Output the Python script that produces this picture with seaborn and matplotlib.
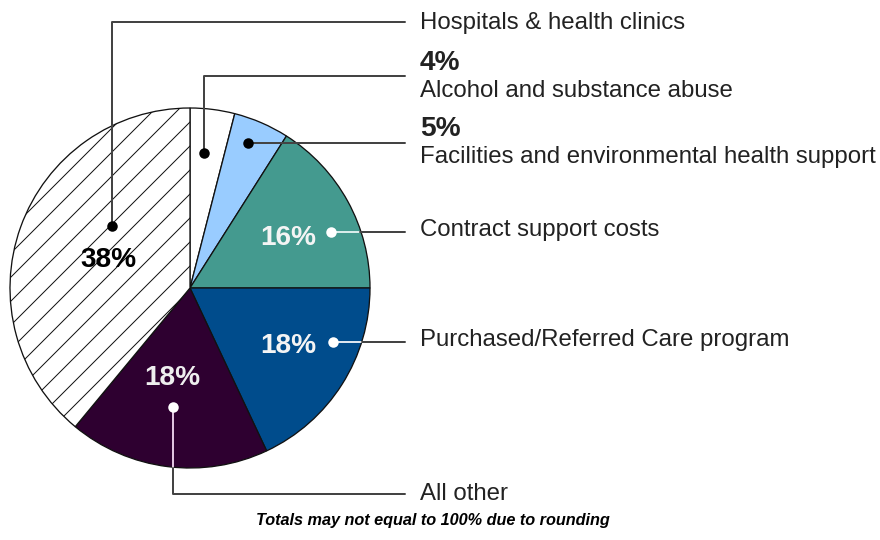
import matplotlib
matplotlib.use("Agg")
import matplotlib.pyplot as plt
import seaborn as sns

sns.set_theme(style="white")
plt.rcParams['font.family'] = ['Liberation Sans', 'DejaVu Sans']
plt.rcParams['hatch.linewidth'] = 1.0
plt.rcParams['hatch.color'] = '#222222'

categories = ["Alcohol and substance abuse", "Facilities and environmental health support",
              "Contract support costs", "Purchased/Referred Care program", "All other",
              "Hospitals & health clinics"]
values = [4, 5, 16, 18, 18, 38]
colors = ["#FFFFFF", "#99CCFF", "#449A8F", "#004C8C", "#2E0030", "#FFFFFF"]
footnote = "Totals may not equal to 100% due to rounding"

# dpi 72 so that 1 pt == 1 px
W, H = 880, 540
DPI = 72
fig = plt.figure(figsize=(W / DPI, H / DPI), dpi=DPI)
ax = fig.add_axes([0, 0, 1, 1])

def Y(yp):
    return H - yp

cx, cy, r = 190, 288, 180
fracs = [v / 100 for v in values]
wedges, _ = ax.pie(fracs, colors=colors, startangle=90, counterclock=False,
                   center=(cx, Y(cy)), radius=r, frame=True, normalize=False,
                   wedgeprops=dict(edgecolor="#111111", linewidth=1.3))
# last slice (hatched) closes the circle (totals do not sum to 100 due to rounding)
wedges[-1].set_theta1(-270)
wedges[-1].set_hatch('/')
ax.set_xlim(0, W)
ax.set_ylim(0, H)
ax.set_aspect('equal')
ax.axis('off')

lc = "#444444"
lab_x = 420
line_end = 405
fs = 24
lab_c = '#222222'
lw = 2.0

def dot(x, y, c):
    ax.plot([x], [Y(y)], 'o', color=c, markersize=10.5, markeredgewidth=0, zorder=5)

# Hospitals
dot(112, 226, 'black')
ax.plot([112, 112, line_end], [Y(226), Y(22), Y(22)], color=lc, lw=lw, zorder=4)
ax.text(lab_x, Y(23), categories[5], fontsize=fs, va='center', ha='left', color=lab_c)

# Alcohol
dot(204, 153, 'black')
ax.plot([204, 204, line_end], [Y(153), Y(76), Y(76)], color=lc, lw=lw, zorder=4)
ax.text(lab_x, Y(63), f"{values[0]}%", fontsize=28, fontweight='bold', va='center', ha='left', color=lab_c)
ax.text(lab_x, Y(91), categories[0], fontsize=fs, va='center', ha='left', color=lab_c)

# Facilities
dot(248, 143, 'black')
ax.plot([248, line_end], [Y(143), Y(143)], color=lc, lw=lw, zorder=4)
ax.text(lab_x, Y(129), f"{values[1]}%", fontsize=28, fontweight='bold', va='center', ha='left', color=lab_c)
ax.text(lab_x, Y(157), categories[1], fontsize=fs, va='center', ha='left', color=lab_c)

# Contract support
dot(331, 232, 'white')
ax.plot([331, 360], [Y(232), Y(232)], color='#d8ecea', lw=lw, zorder=4)
ax.plot([360, line_end], [Y(232), Y(232)], color=lc, lw=lw, zorder=4)
ax.text(lab_x, Y(230), categories[2], fontsize=fs, va='center', ha='left', color=lab_c)
ax.text(288, Y(238), f"{values[2]}%", fontsize=28, fontweight='bold', color='#f4f4f4', ha='center', va='center')

# Purchased/Referred
dot(333, 342, 'white')
ax.plot([333, 362], [Y(342), Y(342)], color='#dde6f0', lw=lw, zorder=4)
ax.plot([362, line_end], [Y(342), Y(342)], color=lc, lw=lw, zorder=4)
ax.text(lab_x, Y(340), categories[3], fontsize=fs, va='center', ha='left', color=lab_c)
ax.text(288, Y(346), f"{values[3]}%", fontsize=28, fontweight='bold', color='#f4f4f4', ha='center', va='center')

# All other
dot(173, 407, 'white')
ax.plot([173, 173], [Y(407), Y(468)], color='#e0c4e0', lw=lw, zorder=4)
ax.plot([173, 173, line_end], [Y(468), Y(494), Y(494)], color=lc, lw=lw, zorder=4)
ax.text(lab_x, Y(494), categories[4], fontsize=fs, va='center', ha='left', color=lab_c)
ax.text(172, Y(378), f"{values[4]}%", fontsize=28, fontweight='bold', color='#eeeeee', ha='center', va='center')

# Hospitals percent
ax.text(108, Y(260), f"{values[5]}%", fontsize=28, fontweight='bold', color='black', ha='center', va='center')

ax.text(433, Y(520), footnote, fontsize=16.3, fontweight='bold', fontstyle='italic',
        ha='center', va='center', color='black')

fig.savefig("out.png", dpi=DPI)
